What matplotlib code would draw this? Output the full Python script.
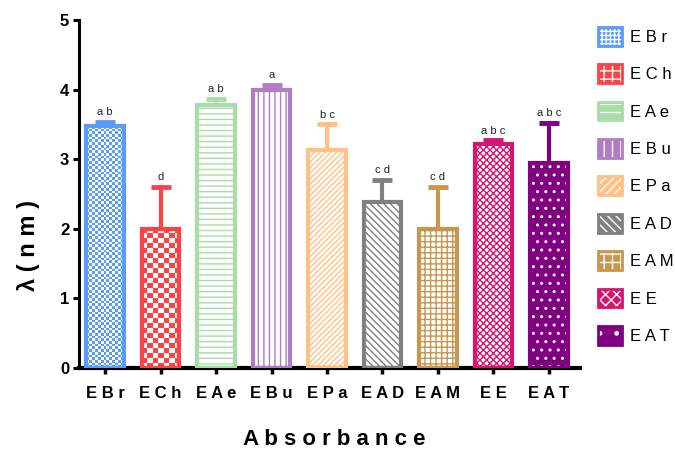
import numpy as np
import matplotlib
matplotlib.use("Agg")
import matplotlib.pyplot as plt
from matplotlib.patches import Patch
from matplotlib.legend_handler import HandlerTuple

plt.rcParams['font.family'] = ['Liberation Sans', 'DejaVu Sans']
plt.rcParams['hatch.linewidth'] = 1.0

# Extracts and their lambda values (nm), upper error and group letters
categories = ['EBr', 'ECh', 'EAe', 'EBu', 'EPa', 'EAD', 'EAM', 'EE', 'EAT']
means = [3.47, 2.00, 3.78, 3.99, 3.13, 2.39, 2.00, 3.22, 2.94]
errors = [0.06, 0.60, 0.08, 0.08, 0.37, 0.31, 0.60, 0.05, 0.58]
groups = ['ab', 'd', 'ab', 'a', 'bc', 'cd', 'cd', 'abc', 'abc']

colors = ['#5A9CF8', '#FC4244', '#A9DCA9', '#B07DC4', '#FFC184',
          '#808080', '#C8964E', '#D5156E', '#80007F']
# (fill, hatch colour, hatch) ; None hatch colour means checkerboard image
styles = [
    ('white', None, 'fine'),
    ('white', None, 'coarse'),
    ('white', colors[2], '---'),
    ('white', colors[3], '|||'),
    ('white', colors[4], '//////'),
    ('white', colors[5], '\\\\\\\\\\'),
    ('white', colors[6], '+++'),
    ('white', colors[7], 'xxxxx'),
    (colors[8], 'white', '..'),
]
legend_hatch = ['++++', '++', '--', '||', '////', '\\\\\\\\', '++', 'xxx', '.']

W = 0.68
fig = plt.figure(figsize=(6.75, 4.5), dpi=100)
ax = fig.add_axes([79 / 675, 1 - 368 / 450, (580 - 79) / 675, (368 - 20) / 450])

x = np.arange(len(categories))
for i, (m, e, c) in enumerate(zip(means, errors, colors)):
    fill, hc, h = styles[i]
    if hc is None:
        # checkerboard fill drawn inside the bar
        per_unit = 14 if h == 'coarse' else 26
        ncol = 7 if h == 'coarse' else 13
        nrow = max(1, int(round(m * per_unit)))
        board = (np.add.outer(np.arange(nrow), np.arange(ncol)) % 2).astype(float)
        cmap = matplotlib.colors.ListedColormap(['white', c])
        im = ax.imshow(board, cmap=cmap, extent=(i - W / 2, i + W / 2, 0, m),
                       aspect='auto', interpolation='nearest', zorder=2,
                       origin='lower')
        bb = ax.bar(i, m, W, color='white', linewidth=0, zorder=1.9)
        im.set_clip_path(bb.patches[0])
    else:
        ax.bar(i, m, W, color=fill, edgecolor=hc, hatch=h, linewidth=0, zorder=2)
    ax.bar(i, m, W, fill=False, edgecolor=c, linewidth=3, zorder=3)
    ax.errorbar(i, m, yerr=[[0], [e]], fmt='none', ecolor=c, elinewidth=3,
                capsize=7.5, capthick=3.5, zorder=1.5)
    ax.text(i, m + e + 0.07, ' '.join(groups[i]), ha='center', va='bottom',
            fontsize=8, color='#222222')

ax.set_xlim(-0.47, 8.56)
ax.set_ylim(0, 5)
ax.set_yticks(range(6))
ax.set_xticks(x)
ax.set_xticklabels([' '.join(c) for c in categories], fontsize=12,
                   fontweight='bold')
for lab in ax.get_yticklabels():
    lab.set_fontsize(12)
    lab.set_fontweight('bold')
ax.tick_params(axis='y', direction='out', length=4, width=2.2, pad=3)
ax.tick_params(axis='x', direction='out', length=4, width=2.5, pad=9)
for s in ['top', 'right']:
    ax.spines[s].set_visible(False)
ax.spines['left'].set_linewidth(2.2)
ax.spines['bottom'].set_linewidth(3)

ax.set_ylabel('λ ( n m )', fontsize=17, fontweight='bold')
ax.yaxis.set_label_coords(-0.078, 0.353)
ax.set_xlabel('A b s o r b a n c e', fontsize=16, fontweight='bold')
ax.xaxis.set_label_coords(0.51, -0.175)

handles = []
for c, h in zip(colors, legend_hatch):
    handles.append((Patch(facecolor=c, edgecolor='white', hatch=h, linewidth=0),
                    Patch(fill=False, edgecolor=c, linewidth=2)))
fig.legend(handles, [' '.join(c) for c in categories],
           handler_map={tuple: HandlerTuple(ndivide=1, pad=0)},
           loc='upper left', bbox_to_anchor=(598 / 675, 1 - 27 / 450),
           frameon=False, fontsize=12, handlelength=1.45, handleheight=1.35,
           handletextpad=0.45, labelspacing=1.12, borderpad=0, borderaxespad=0)

fig.savefig('out.png', dpi=100)
